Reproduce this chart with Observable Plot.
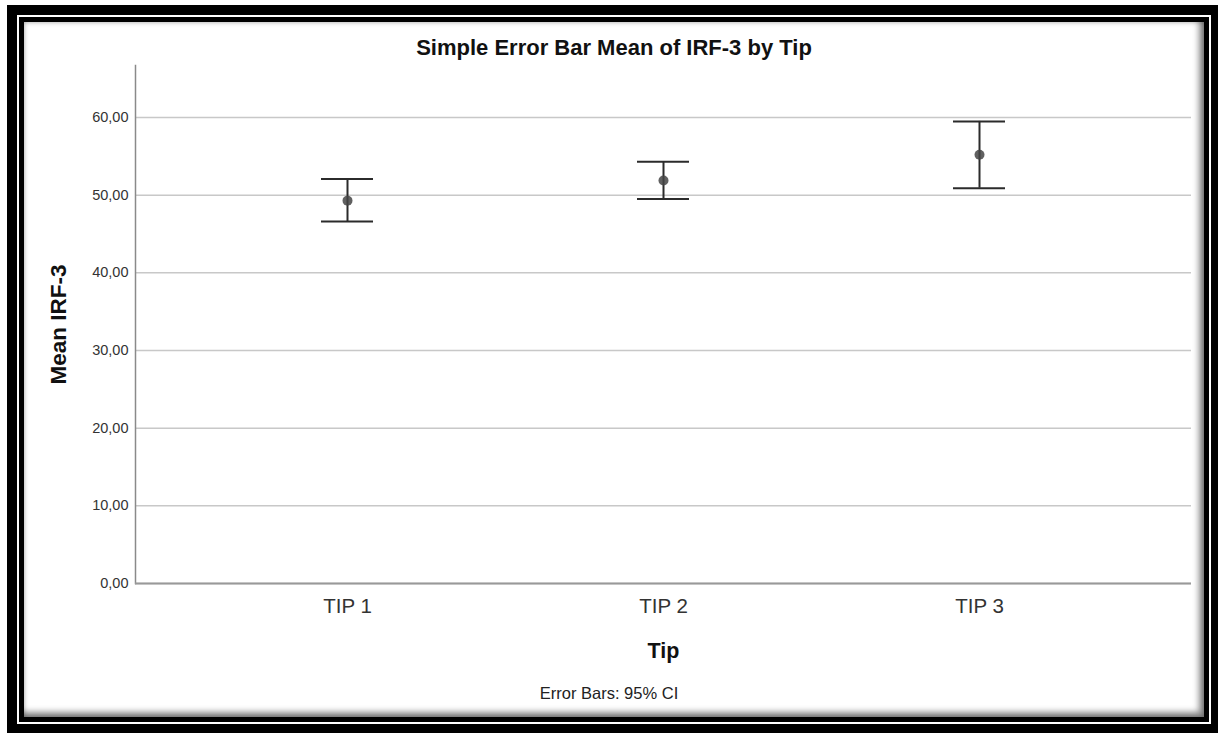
<!DOCTYPE html>
<html><head><meta charset="utf-8">
<script src="https://cdn.jsdelivr.net/npm/d3@7"></script>
<script src="https://cdn.jsdelivr.net/npm/@observablehq/plot@0.6"></script>
<style>
body{margin:0;background:#fff;width:1218px;height:733px;overflow:hidden;font-family:"Liberation Sans",Arial,sans-serif;position:relative;}
#f1{position:absolute;left:7px;top:5px;width:1211px;height:728px;background:#000;}
#f2{position:absolute;left:10px;top:10px;right:7px;bottom:9px;background:#fff;}
#f3{position:absolute;left:2px;top:2px;right:2px;bottom:2px;background:#000;}
#f4{position:absolute;left:5px;top:5px;right:5px;bottom:5px;background:#fff;
  box-shadow: inset 0 0 5px rgba(0,0,0,0.35), inset -5px -5px 6px rgba(0,0,0,0.45);}
#title{position:absolute;left:24px;width:1180px;top:36px;line-height:24px;text-align:center;font-weight:bold;font-size:22px;color:#111;}
#chart{position:absolute;left:25px;top:60px;}
#caption{position:absolute;left:0;width:1218px;top:684px;line-height:18px;text-align:center;font-size:16.5px;color:#222;}
</style>
</head><body>
<div id="f1"><div id="f2"><div id="f3"><div id="f4"></div></div></div></div>
<div id="title">Simple Error Bar Mean of IRF-3 by Tip</div>
<div id="chart"></div>
<div id="caption">Error Bars: 95% CI</div>
<script>
const tips = ["TIP 1", "TIP 2", "TIP 3"];
const means = [49.3, 51.9, 55.2];
const lower = [46.6, 49.5, 50.9];
const upper = [52.1, 54.3, 59.5];
const yTicks = [0, 10, 20, 30, 40, 50, 60];

const data = tips.map((t, i) => ({tip: t, mean: means[i], lo: lower[i], hi: upper[i]}));
const fmt = d => d.toFixed(2).replace(".", ",");

const chart = Plot.plot({
  width: 1178, height: 600,
  marginLeft: 110, marginRight: 12, marginTop: 5, marginBottom: 77,
  style: {fontFamily: "'Liberation Sans', Arial, sans-serif", background: "transparent", overflow: "visible"},
  x: {type: "band", domain: tips, paddingInner: 0.835, paddingOuter: 0.588},
  y: {domain: [0, 66.7]},
  marks: [
    Plot.gridY(yTicks, {stroke: "#c8c8c8", strokeOpacity: 1, strokeWidth: 1.5}),
    Plot.frame({anchor: "left", stroke: "#8a8a8a", strokeWidth: 1.5}),
    Plot.ruleY([0], {stroke: "#999", strokeWidth: 2}),
    Plot.axisY(yTicks, {tickSize: 0, tickPadding: 7, tickFormat: fmt, fontSize: 14.5, fill: "#333", label: null}),
    Plot.axisY([], {label: "Mean IRF-3", labelArrow: "none", labelAnchor: "center", labelOffset: 85, fontSize: 22.5, fontWeight: "bold", fill: "#111"}),
    Plot.axisX(tips, {tickSize: 0, tickPadding: 15, fontSize: 20.5, fill: "#333", label: null}),
    Plot.axisX([], {label: "Tip", labelArrow: "none", labelAnchor: "center", labelOffset: 74, fontSize: 21.5, fontWeight: "bold", fill: "#111"}),
    Plot.ruleX(data, {x: "tip", y1: "lo", y2: "hi", stroke: "#2b2b2b", strokeWidth: 2}),
    Plot.tickY(data, {x: "tip", y: "hi", stroke: "#2b2b2b", strokeWidth: 2}),
    Plot.tickY(data, {x: "tip", y: "lo", stroke: "#2b2b2b", strokeWidth: 2}),
    Plot.dot(data, {x: "tip", y: "mean", r: 5, fill: "#444", fillOpacity: 0.85})
  ]
});
document.getElementById("chart").appendChild(chart);
</script>
</body></html>
